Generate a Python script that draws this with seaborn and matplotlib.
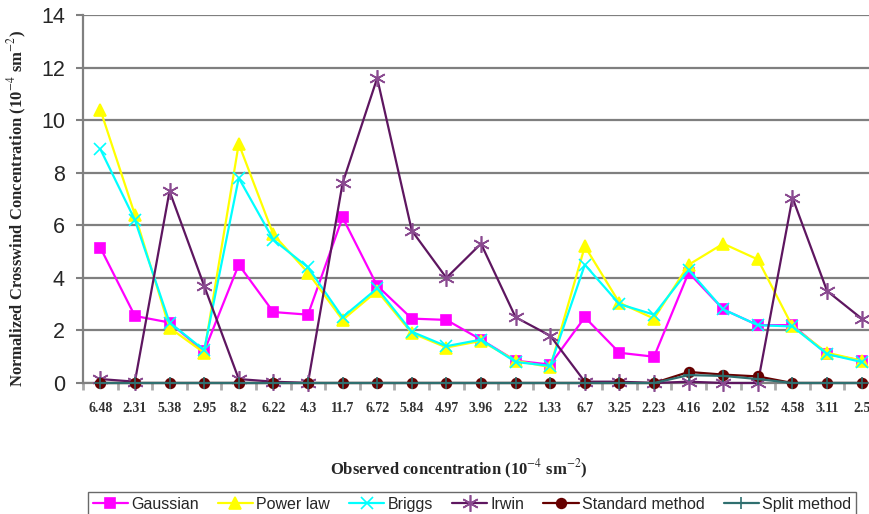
import numpy as np
import matplotlib
matplotlib.use("Agg")
import matplotlib.pyplot as plt
import seaborn as sns

# observed concentrations (x categories)
observed = ["6.48", "2.31", "5.38", "2.95", "8.2", "6.22", "4.3", "11.7", "6.72",
            "5.84", "4.97", "3.96", "2.22", "1.33", "6.7", "3.25", "2.23", "4.16",
            "2.02", "1.52", "4.58", "3.11", "2.5"]

gaussian = [5.15, 2.55, 2.3, 1.2, 4.5, 2.7, 2.6, 6.3, 3.7, 2.45, 2.4, 1.65,
            0.85, 0.7, 2.5, 1.15, 1.0, 4.2, 2.8, 2.2, 2.2, 1.1, 0.85]
power_law = [10.4, 6.4, 2.1, 1.15, 9.1, 5.65, 4.2, 2.4, 3.5, 1.9, 1.35, 1.6,
             0.85, 0.6, 5.2, 3.05, 2.45, 4.5, 5.3, 4.7, 2.15, 1.15, 0.85]
briggs = [8.9, 6.2, 2.3, 1.25, 7.8, 5.45, 4.4, 2.5, 3.6, 1.95, 1.4, 1.65,
          0.8, 0.65, 4.5, 3.0, 2.6, 4.3, 2.8, 2.2, 2.15, 1.1, 0.8]
irwin = [0.15, 0.05, 7.3, 3.7, 0.15, 0.05, 0.0, 7.6, 11.6, 5.8, 4.0, 5.3,
         2.5, 1.8, 0.05, 0.05, 0.0, 0.05, 0.0, 0.0, 7.05, 3.5, 2.45]
standard = [0, 0, 0, 0, 0, 0, 0, 0, 0, 0, 0, 0,
            0, 0, 0, 0, 0, 0.42, 0.32, 0.25, 0, 0, 0]
split = [0, 0, 0, 0, 0, 0, 0, 0, 0, 0, 0, 0,
         0, 0, 0, 0, 0, 0.3, 0.27, 0.15, 0, 0, 0]

series = [
    ("Gaussian", gaussian, "#FF00FF", "#FF00FF", "s", 7),
    ("Power law", power_law, "#FFFF00", "#FFFF00", "^", 9),
    ("Briggs", briggs, "#00FFFF", "#00FFFF", "x", 8),
    ("Irwin", irwin, "#5E1660", "#8A4A90", (6, 2, 0), 12),
    ("Standard method", standard, "#660000", "#660000", "o", 7),
    ("Split method", split, "#2F6F6F", "#2F6F6F", "+", 8),
]

sns.set_style("white")
plt.rcParams["font.family"] = ["Liberation Sans", "DejaVu Sans"]
plt.rcParams["mathtext.fontset"] = "stix"

fig = plt.figure(figsize=(8.69, 5.14), dpi=100)
ax = fig.add_axes([83 / 869, 131 / 514, 796 / 869, 368 / 514])

x = np.arange(len(observed))
for name, vals, col, mcol, mk, ms in series:
    sns.lineplot(x=x, y=vals, ax=ax, color=col, marker=mk, markersize=ms,
                 markeredgecolor=mcol, markerfacecolor=mcol, markeredgewidth=1.2,
                 linewidth=1.6, label=name, clip_on=False, zorder=3)

ax.set_ylim(0, 14)
ax.set_xlim(-0.5, len(observed) - 0.5)
ax.set_yticks(range(0, 15, 2))
ax.yaxis.grid(True, color="#7f7f7f", linewidth=1.6)
ax.set_axisbelow(True)
for s in ["top", "right"]:
    ax.spines[s].set_visible(False)
for s in ["left", "bottom"]:
    ax.spines[s].set_color("#808080")
    ax.spines[s].set_linewidth(1.6)

ax.set_xticks(x)
ax.set_xticklabels(observed, fontfamily="Liberation Serif", fontweight="bold",
                   fontsize=10, color="#333333")
ax.set_xticks(np.arange(-0.5, len(observed), 1), minor=True)
ax.tick_params(axis="x", which="major", length=0, pad=14)
ax.tick_params(axis="x", which="minor", length=5, width=2, color="#aaaaaa",
               direction="out", bottom=True)
ax.tick_params(axis="y", length=5, width=1.5, color="#808080", left=True,
               labelsize=15.5, pad=8)

ax.set_ylabel("Normalized Crosswind Concentration (10$^{-4}$ sm$^{-2}$)",
              fontfamily="Liberation Serif", fontweight="bold", fontsize=12)
ax.yaxis.set_label_coords(-0.068, 0.475)
ax.set_xlabel("Observed concentration (10$^{-4}$ sm$^{-2}$)",
              fontfamily="Liberation Serif", fontweight="bold", fontsize=12)
ax.xaxis.set_label_coords(0.472, -0.204)

ax.get_legend().remove()
handles, labels = ax.get_legend_handles_labels()
leg = fig.legend(handles, labels, loc="upper left",
                 bbox_to_anchor=(88 / 869, 1 - 492 / 514), ncol=6,
                 frameon=True, fancybox=False, fontsize=11.5, borderaxespad=0,
                 handlelength=2.2, handletextpad=0.2, columnspacing=1.2,
                 borderpad=0.3)
leg.get_frame().set_edgecolor("#444444")
leg.get_frame().set_linewidth(1.0)

fig.savefig("out.png", dpi=100)
